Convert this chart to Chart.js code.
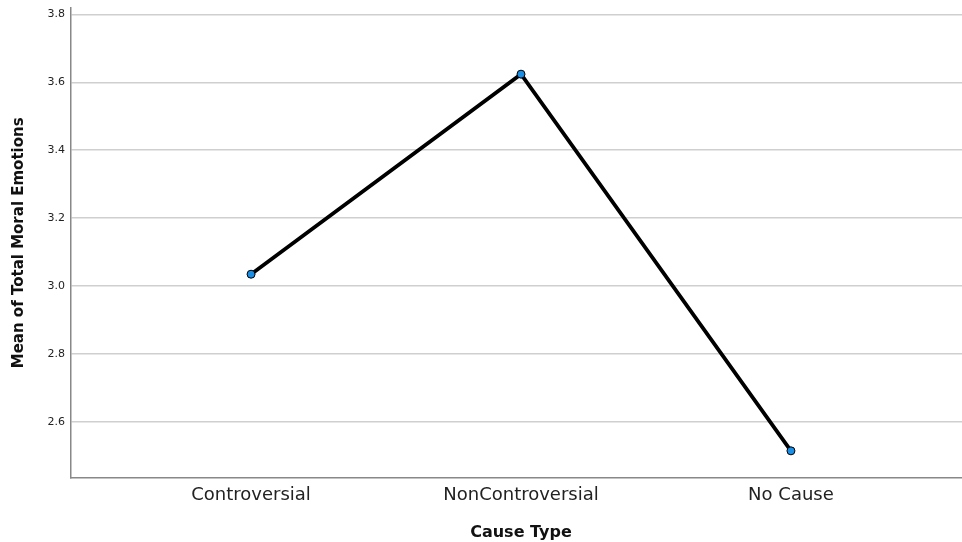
<!DOCTYPE html>
<html>
<head>
<meta charset="utf-8">
<script src="https://cdn.jsdelivr.net/npm/chart.js@4"></script>
<style>
  html, body { margin:0; padding:0; background:#fff; overflow:hidden; }
  #wrap { width:962px; height:542px; position:relative; overflow:hidden; }
  /* plot runs off the right edge in the original, so the canvas is a bit larger */
  #inner { position:absolute; left:0; top:-5px; width:976px; height:547px; }
</style>
</head>
<body>
<div id="wrap"><div id="inner"><canvas id="chart"></canvas></div></div>
<script>
const categories = ["Controversial", "NonControversial", "No Cause"];
const meanValues = [3.035, 3.624, 2.515];
const yTicks = [2.6, 2.8, 3.0, 3.2, 3.4, 3.6, 3.8];

const font = "'DejaVu Sans', sans-serif";

new Chart(document.getElementById("chart"), {
  type: "line",
  data: {
    datasets: [{
      data: meanValues.map((v, i) => ({ x: i, y: v })),
      borderColor: "#000",
      borderWidth: 3.8,
      pointRadius: 4,
      pointBackgroundColor: "#1b8ee6",
      pointBorderColor: "#000",
      pointBorderWidth: 1,
      tension: 0
    }]
  },
  options: {
    responsive: true,
    maintainAspectRatio: false,
    animation: false,
    layout: { padding: { top: 7, right: 0, left: 0, bottom: 0 } },
    plugins: { legend: { display: false }, tooltip: { enabled: false } },
    scales: {
      x: {
        type: "linear",
        min: -0.667,
        max: 2.667,
        afterBuildTicks: s => { s.ticks = categories.map((c, i) => ({ value: i })); },
        afterFit: s => { s.height = 64; },
        ticks: {
          callback: v => categories[v],
          color: "#222",
          font: { family: font, size: 18 },
          padding: 7,
          maxRotation: 0
        },
        grid: { display: false, drawTicks: false },
        border: { color: "#888", width: 1.5 },
        title: {
          display: true,
          text: "Cause Type",
          color: "#111",
          font: { family: font, size: 16, weight: "bold" },
          padding: { top: 6, bottom: 0 }
        }
      },
      y: {
        min: 2.435,
        max: 3.82,
        afterBuildTicks: s => { s.ticks = yTicks.map(v => ({ value: v })); },
        afterFit: s => { s.width = 71; },
        ticks: {
          callback: v => v.toFixed(1),
          color: "#222",
          font: { family: font, size: 11 },
          padding: 6
        },
        grid: { color: "#cfcfcf", lineWidth: 1.5, drawTicks: false },
        border: { color: "#888", width: 1.5 },
        title: {
          display: true,
          text: "Mean of Total Moral Emotions",
          color: "#111",
          font: { family: font, size: 15, weight: "bold" },
          padding: { top: 10, bottom: 0 }
        }
      }
    }
  }
});
</script>
</body>
</html>
